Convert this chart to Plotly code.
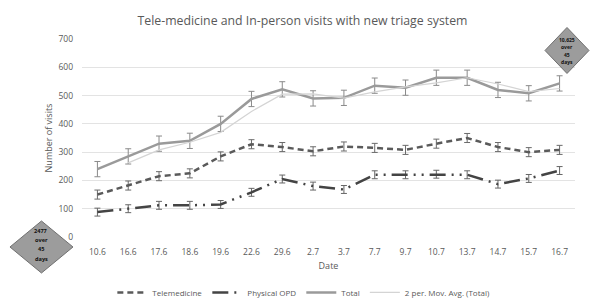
import plotly.graph_objects as go

dates = ["10.6", "16.6", "17.6", "18.6", "19.6", "22.6", "29.6", "2.7", "3.7",
         "7.7", "9.7", "10.7", "13.7", "14.7", "15.7", "16.7"]
telemedicine = [150, 182, 215, 225, 285, 328, 318, 303, 320, 315, 308, 330, 350, 318, 300, 308]
physical_opd = [88, 100, 112, 112, 115, 158, 205, 180, 168, 220, 220, 222, 220, 187, 207, 235]
total = [240, 285, 330, 340, 400, 488, 522, 490, 492, 535, 528, 563, 563, 520, 508, 543]
mov_avg_dates = dates[1:]
mov_avg = [262, 308, 335, 370, 444, 505, 506, 491, 513, 531, 545, 563, 541, 514, 525]
err_tele = 16
err_opd = 14
err_total = 27
note_total = ["10,625", "over", "45", "days"]
note_opd = ["2477", "over", "45", "days"]

fig = go.Figure()
fig.add_trace(go.Scatter(
    x=dates, y=telemedicine, name="Telemedicine", mode="lines",
    line=dict(color="#5a5a5a", width=2.5, dash="6px,4px"),
    error_y=dict(type="constant", value=err_tele, color="#6a6a6a", thickness=1, width=3)))
fig.add_trace(go.Scatter(
    x=dates, y=physical_opd, name="Physical OPD", mode="lines",
    line=dict(color="#444444", width=2.5, dash="16px,6px,2px,6px,2px,6px"),
    error_y=dict(type="constant", value=err_opd, color="#666666", thickness=1, width=3)))
fig.add_trace(go.Scatter(
    x=dates, y=total, name="Total", mode="lines",
    line=dict(color="#9a9a9a", width=2.5),
    error_y=dict(type="constant", value=err_total, color="#8a8a8a", thickness=1, width=3)))
fig.add_trace(go.Scatter(
    x=mov_avg_dates, y=mov_avg, name="2 per. Mov. Avg. (Total)", mode="lines",
    line=dict(color="#d4d4d4", width=1.2)))

PW, PH = 493.0, 198.0

def diamond(cx, cy, hw, hh):
    hw, hh = hw / PW, hh / PH
    return dict(type="path", xref="paper", yref="paper",
                path=f"M {cx},{cy + hh} L {cx + hw},{cy} L {cx},{cy - hh} L {cx - hw},{cy} Z",
                fillcolor="#9c9c9c", line=dict(color="#707070", width=1), layer="above")

def note(cx, cy, lines, spacing, size):
    n = len(lines)
    out = []
    for i, t in enumerate(lines):
        out.append(dict(xref="paper", yref="paper", x=cx, y=cy, xanchor="center", yanchor="middle",
                        yshift=((n - 1) / 2 - i) * spacing, text=f"<b>{t}</b>", showarrow=False,
                        font=dict(size=size, color="#111111", family="Open Sans, sans-serif")))
    return out

top_c = (0.9838, 0.942)
bot_c = (-0.0822, -0.0505)

fig.update_layout(
    width=599, height=299,
    margin=dict(l=82, r=24, t=39, b=62, autoexpand=False),
    paper_bgcolor="white", plot_bgcolor="white",
    font=dict(family="Open Sans, sans-serif", color="#595959", size=9),
    title=dict(text="Tele-medicine and In-person visits with new triage system",
               x=0.505, xanchor="center", y=0.93, yanchor="middle",
               font=dict(size=12.3, color="#595959")),
    xaxis=dict(type="category", range=[-0.5, 15.5], showgrid=False, showline=False,
               ticks="", tickfont=dict(size=8.5, color="#595959"), automargin=False,
               ticklabelstandoff=8,
               title=dict(text="Date", font=dict(size=9, color="#595959"), standoff=7)),
    yaxis=dict(range=[0, 700], dtick=100, showgrid=True, gridcolor="#e3e3e3", gridwidth=1,
               zeroline=False, showline=False, ticks="", tickfont=dict(size=8.5, color="#595959"),
               automargin=False, ticklabelstandoff=8,
               title=dict(text="Number of visits", font=dict(size=9, color="#595959"), standoff=4)),
    legend=dict(orientation="h", x=0.45, xanchor="center", y=-0.28, yanchor="middle",
                font=dict(size=8, color="#595959"), itemwidth=30, tracegroupgap=0),
    shapes=[diamond(top_c[0], top_c[1], 22, 23), diamond(bot_c[0], bot_c[1], 31.5, 26)],
    annotations=note(top_c[0], top_c[1] - 0.003, note_total, 7.3, 5)
                + note(bot_c[0], bot_c[1] + 0.012, note_opd, 9.3, 5.6),
)

fig.write_html("out.html", config={"displayModeBar": False},
               post_script="document.body.style.margin='0';document.body.style.overflow='hidden';")
